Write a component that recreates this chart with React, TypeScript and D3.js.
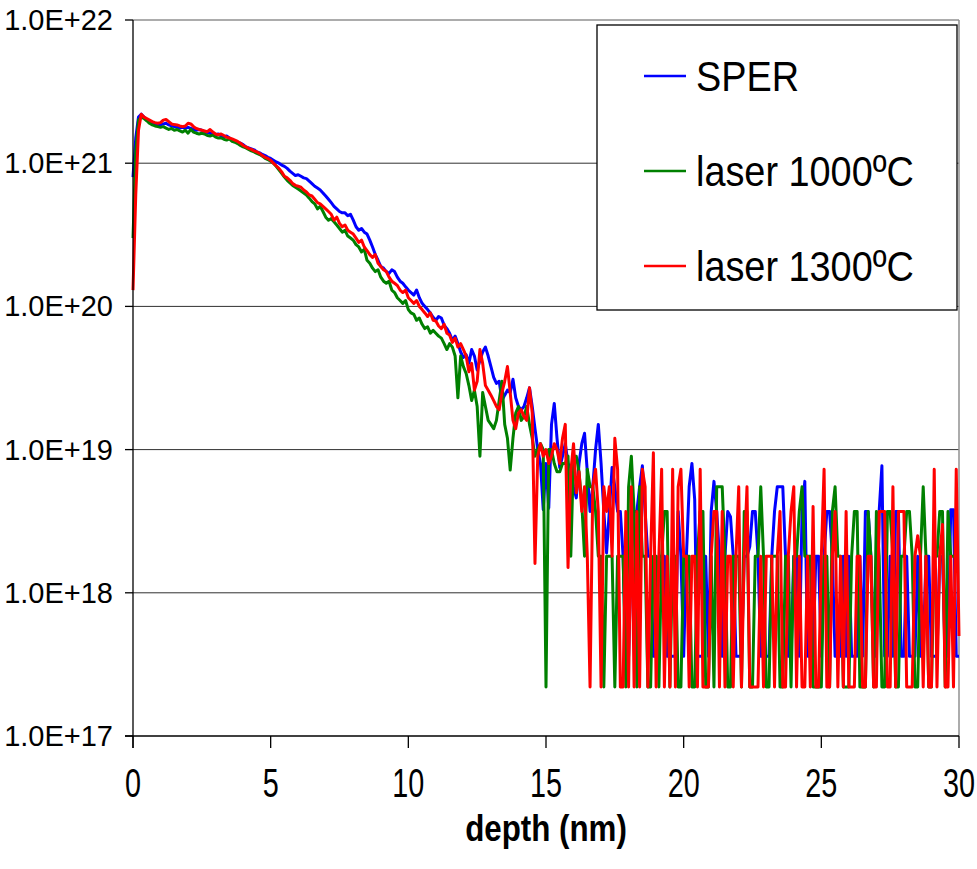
import React from "react";
import * as d3 from "d3";

// depth grid (nm), 0.1 nm sampling step of the SIMS profiles
const depthNm: number[] = d3.range(0, 301).map((i) => Math.round(i) / 10);

const seriesNames = ["SPER", "laser 1000ºC", "laser 1300ºC"];
const seriesColors = ["#0000FF", "#008000", "#FF0000"];

const xTicks = [0, 5, 10, 15, 20, 25, 30];
const yTicks = [1e17, 1e18, 1e19, 1e20, 1e21, 1e22];
const xTitle = "depth (nm)";

// SPER
const sper: number[] = [
  8e20, 1.5e21, 2.1e21, 2.2e21, 2.1e21, 2.0e21, 1.95e21, 1.9e21, 1.88e21, 1.85e21,
  1.85e21, 1.88e21, 1.9e21, 1.85e21, 1.82e21, 1.8e21, 1.78e21, 1.76e21, 1.78e21, 1.75e21,
  1.78e21, 1.75e21, 1.72e21, 1.7e21, 1.72e21, 1.7e21, 1.66e21, 1.64e21, 1.62e21, 1.6e21,
  1.58e21, 1.6e21, 1.55e21, 1.52e21, 1.55e21, 1.5e21, 1.45e21, 1.42e21, 1.4e21, 1.38e21,
  1.35e21, 1.3e21, 1.28e21, 1.26e21, 1.24e21, 1.2e21, 1.18e21, 1.15e21, 1.13e21, 1.1e21,
  1.08e21, 1.05e21, 1.02e21, 1.0e21, 9.7e20, 9.5e20, 9.2e20, 8.8e20, 8.5e20, 8.2e20,
  8.3e20, 8.1e20, 7.9e20, 7.8e20, 7.5e20, 7.2e20, 6.9e20, 6.7e20, 6.5e20, 6.2e20,
  5.9e20, 5.6e20, 5.3e20, 5.0e20, 4.8e20, 4.6e20, 4.5e20, 4.5e20, 4.3e20, 4.4e20,
  4.0e20, 3.6e20, 3.4e20, 3.5e20, 3.3e20, 3.2e20, 2.9e20, 2.6e20, 2.3e20, 2.1e20,
  1.9e20, 1.85e20, 1.75e20, 1.7e20, 1.8e20, 1.75e20, 1.6e20, 1.5e20, 1.45e20, 1.37e20,
  1.3e20, 1.25e20, 1.2e20, 1.3e20, 1.15e20, 1.05e20, 1.0e20, 9.5e19, 9.0e19, 8.4e19,
  8.0e19, 8.5e19, 8.3e19, 7.4e19, 7.0e19, 6.5e19, 5.8e19, 6.2e19, 5.5e19, 4.8e19,
  4.4e19, 4.6e19, 4.0e19, 5.0e19, 4.5e19, 3.6e19, 4.2e19, 4.8e19, 5.2e19, 4.5e19,
  3.8e19, 3.2e19, 2.9e19, 3.0e19, 2.2e19, 2.4e19, 2.6e19, 2.5e19, 3.1e19, 2.3e19,
  2.0e19, 1.9e19, 2.0e19, 2.3e19, 2.7e19, 2.0e19, 1.4e19, 1.0e19, 8e18, 3.8e18,
  8e18, 3.9e18, 1.5e19, 2.1e19, 1.2e19, 7.5e18, 9e18, 1.1e19, 8e18, 7.5e18,
  5.5e18, 4.6e18, 8e18, 1.1e19, 1.3e19, 7e18, 3.7e18, 5.5e18, 1.0e19, 1.5e19,
  8e18, 3.7e18, 1.9e18, 3.7e18, 7.5e18, 5.5e18, 3.7e18, 3.7e18, 1.8e18, 3.6e17,
  3.6e17, 1.8e18, 3.7e18, 3.7e18, 5.5e18, 7.7e18, 3.7e18, 1.8e18, 1.8e18, 3.6e17,
  3.6e17, 1.8e18, 1.8e18, 1.8e18, 3.6e17, 3.6e17, 3.6e17, 3.6e17, 3.7e18, 1.8e18,
  3.6e17, 1.8e18, 5.5e18, 8e18, 4.5e18, 3.6e17, 3.6e17, 3.6e17, 1.8e18, 3.6e17,
  3.7e18, 6e18, 3.7e18, 1.8e18, 3.6e17, 1.8e18, 3.7e18, 3.4e18, 1.8e18, 3.6e17,
  3.6e17, 3.6e17, 1.8e18, 1.8e18, 2.1e18, 3.7e18, 3.7e18, 1.8e18, 3.6e17, 3.6e17,
  3.6e17, 3.6e17, 1.8e18, 3.7e18, 5.5e18, 5.5e18, 5.5e18, 1.8e18, 3.6e17, 3.6e17,
  1.8e18, 1.8e18, 3.6e17, 3.7e18, 6e18, 3.6e17, 3.6e17, 3.6e17, 1.8e18, 1.8e18,
  3.6e17, 1.8e18, 3.7e18, 3.7e18, 1.8e18, 3.6e17, 3.6e17, 3.6e17, 1.8e18, 3.6e17,
  1.8e18, 3.6e17, 3.6e17, 3.6e17, 1.8e18, 3.6e17, 3.7e18, 3.7e18, 1.8e18, 3.6e17,
  3.6e17, 3.7e18, 7.7e18, 3.6e17, 3.6e17, 1.8e18, 3.6e17, 3.7e18, 3.7e18, 3.6e17,
  3.6e17, 1.8e18, 3.6e17, 3.6e17, 3.6e17, 1.8e18, 3.6e17, 3.6e17, 1.8e18, 1.8e18,
  3.6e17, 3.6e17, 3.6e17, 1.8e18, 1.8e18, 3.6e17, 3.6e17, 3.8e18, 3.8e18, 3.6e17,
  3.6e17,
];

// laser 1000ºC
const laser1000: number[] = [
  3e20, 1.2e21, 2.0e21, 2.1e21, 2.05e21, 1.98e21, 1.9e21, 1.85e21, 1.82e21, 1.8e21,
  1.78e21, 1.8e21, 1.76e21, 1.72e21, 1.75e21, 1.7e21, 1.72e21, 1.68e21, 1.65e21, 1.7e21,
  1.62e21, 1.72e21, 1.65e21, 1.62e21, 1.6e21, 1.62e21, 1.6e21, 1.56e21, 1.55e21, 1.57e21,
  1.52e21, 1.5e21, 1.5e21, 1.47e21, 1.45e21, 1.48e21, 1.42e21, 1.4e21, 1.37e21, 1.33e21,
  1.3e21, 1.28e21, 1.25e21, 1.22e21, 1.2e21, 1.17e21, 1.15e21, 1.12e21, 1.08e21, 1.06e21,
  1.03e21, 1.0e21, 9.5e20, 9.0e20, 8.5e20, 8.0e20, 7.6e20, 7.3e20, 7.0e20, 6.8e20,
  6.6e20, 6.4e20, 6.2e20, 6.0e20, 5.7e20, 5.4e20, 5.2e20, 4.8e20, 5.0e20, 4.6e20,
  4.2e20, 4.0e20, 4.1e20, 3.9e20, 3.7e20, 3.5e20, 3.3e20, 3.4e20, 3.1e20, 3.0e20,
  2.9e20, 2.7e20, 2.6e20, 2.4e20, 2.5e20, 2.1e20, 2.0e20, 1.85e20, 1.75e20, 1.8e20,
  1.6e20, 1.5e20, 1.45e20, 1.5e20, 1.3e20, 1.25e20, 1.15e20, 1.1e20, 1.05e20, 1.1e20,
  9.5e19, 9.0e19, 8.8e19, 8.0e19, 8.3e19, 7.5e19, 7.0e19, 7.2e19, 6.5e19, 6.8e19,
  6.5e19, 6.2e19, 6.0e19, 5.5e19, 5.0e19, 5.5e19, 5.2e19, 4.5e19, 2.3e19, 4.5e19,
  3.8e19, 3.4e19, 2.8e19, 2.2e19, 2.6e19, 2.0e19, 9e18, 2.5e19, 2.0e19, 1.6e19,
  1.5e19, 1.4e19, 1.6e19, 2.2e19, 3.0e19, 1.5e19, 1.2e19, 7.2e18, 1.2e19, 1.8e19,
  2.0e19, 1.6e19, 1.7e19, 2.0e19, 1.5e19, 1.2e19, 9e18, 1.0e19, 1.1e19, 1.0e19,
  2.2e17, 1.0e19, 1.0e19, 8e18, 7e18, 7e18, 8e18, 8e18, 9e18, 1.8e18,
  9e18, 9e18, 7e18, 4.2e18, 1.8e18, 7.3e18, 5.5e18, 5.5e18, 3.7e18, 1.8e18,
  1.8e18, 2.2e17, 1.8e18, 1.8e18, 1.8e18, 2.2e17, 1.8e18, 1.8e18, 1.8e18, 2.2e17,
  5.5e18, 9e18, 3.7e18, 2.2e17, 5.5e18, 1.8e18, 1.8e18, 2.2e17, 2.2e17, 1.8e18,
  1.8e18, 2.2e17, 1.8e18, 3.7e18, 3.7e18, 2.2e17, 1.8e18, 1.8e18, 2.2e17, 2.2e17,
  1.8e18, 1.8e18, 1.8e18, 2.2e17, 2.2e17, 1.8e18, 3.7e18, 3.7e18, 2.2e17, 2.2e17,
  1.8e18, 2.2e17, 5.5e18, 5.5e18, 5.5e18, 1.8e18, 2.2e17, 2.2e17, 1.8e18, 1.8e18,
  1.8e18, 2.2e17, 3.7e18, 3.7e18, 2.2e17, 2.2e17, 1.8e18, 1.8e18, 5.5e18, 1.8e18,
  2.2e17, 2.2e17, 1.8e18, 1.8e18, 1.8e18, 2.2e17, 2.2e17, 1.8e18, 1.8e18, 2.2e17,
  1.8e18, 1.8e18, 3.7e18, 5.5e18, 1.8e18, 1.8e18, 1.8e18, 2.2e17, 2.2e17, 2.2e17,
  2.2e17, 1.8e18, 1.8e18, 2.2e17, 3.7e18, 5.5e18, 1.8e18, 1.8e18, 2.2e17, 2.2e17,
  2.2e17, 1.8e18, 3.7e18, 3.7e18, 2.2e17, 2.2e17, 2.2e17, 3.7e18, 1.8e18, 2.2e17,
  3.7e18, 1.8e18, 2.2e17, 2.2e17, 3.7e18, 3.7e18, 1.8e18, 2.2e17, 2.2e17, 1.8e18,
  1.8e18, 3.7e18, 3.7e18, 1.8e18, 2.2e17, 2.2e17, 1.8e18, 5.5e18, 1.8e18, 2.2e17,
  2.2e17, 1.8e18, 1.8e18, 3.7e18, 3.7e18, 2.2e17, 3.7e18, 1.8e18, 1.8e18, 1.8e18,
  1.8e18,
];

// laser 1300ºC
const laser1300: number[] = [
  1.3e20, 6e20, 1.7e21, 2.2e21, 2.1e21, 2.05e21, 2.0e21, 1.95e21, 1.92e21, 1.9e21,
  1.92e21, 2.0e21, 2.02e21, 1.95e21, 1.88e21, 1.86e21, 1.85e21, 1.82e21, 1.8e21, 1.82e21,
  1.9e21, 1.88e21, 1.8e21, 1.75e21, 1.72e21, 1.7e21, 1.68e21, 1.66e21, 1.72e21, 1.65e21,
  1.6e21, 1.58e21, 1.6e21, 1.56e21, 1.52e21, 1.5e21, 1.48e21, 1.45e21, 1.42e21, 1.38e21,
  1.33e21, 1.3e21, 1.27e21, 1.25e21, 1.22e21, 1.2e21, 1.17e21, 1.13e21, 1.1e21, 1.08e21,
  1.05e21, 1.0e21, 9.6e20, 9.2e20, 8.7e20, 8.1e20, 7.9e20, 7.6e20, 7.2e20, 7.0e20,
  6.9e20, 6.8e20, 6.5e20, 6.3e20, 6.0e20, 5.9e20, 5.6e20, 5.3e20, 5.2e20, 5.0e20,
  4.8e20, 4.6e20, 4.4e20, 4.0e20, 4.2e20, 3.8e20, 3.6e20, 3.7e20, 3.4e20, 3.3e20,
  3.2e20, 3.0e20, 2.8e20, 2.9e20, 2.6e20, 2.45e20, 2.3e20, 2.2e20, 2.3e20, 2.0e20,
  1.9e20, 1.8e20, 1.75e20, 1.6e20, 1.5e20, 1.45e20, 1.4e20, 1.3e20, 1.25e20, 1.3e20,
  1.15e20, 1.1e20, 1.05e20, 1.1e20, 1.0e20, 9.5e19, 9.0e19, 8.5e19, 9.0e19, 8.0e19,
  7.9e19, 7.3e19, 7.0e19, 7.5e19, 6.5e19, 6.3e19, 5.6e19, 6.0e19, 5.2e19, 5.5e19,
  5.0e19, 4.5e19, 3.5e19, 4.0e19, 2.6e19, 3.0e19, 5.0e19, 4.0e19, 2.8e19, 2.6e19,
  2.4e19, 2.2e19, 2.0e19, 1.9e19, 2.5e19, 3.0e19, 3.8e19, 2.5e19, 1.6e19, 1.4e19,
  1.8e19, 1.9e19, 1.7e19, 1.6e19, 2.7e19, 1.8e19, 1.6e18, 9e18, 1.1e19, 9e18,
  1.0e19, 8e18, 9e18, 1.1e19, 1.0e19, 8e18, 1.2e19, 1.5e19, 1.5e18, 7e18,
  1.1e19, 5e18, 7e18, 3.7e18, 5.5e18, 1.8e18, 2.2e17, 5.5e18, 7.3e18, 3.7e18,
  2.2e17, 5.5e18, 3.7e18, 5.5e18, 1.8e18, 1.2e19, 7.3e18, 2.2e17, 2.2e17, 3.7e18,
  2.2e17, 5.5e18, 2.2e17, 3.7e18, 2.2e17, 7.3e18, 5.5e18, 2.2e17, 1.8e18, 9.5e18,
  2.2e17, 1.8e18, 7.3e18, 2.2e17, 1.8e18, 2.2e17, 7.3e18, 2.2e17, 5.5e18, 7.3e18,
  1.8e18, 1.8e18, 2.2e17, 1.8e18, 1.8e18, 2.2e17, 7.3e18, 2.2e17, 2.2e17, 2.2e17,
  1.8e18, 3.7e18, 3.7e18, 2.2e17, 3.7e18, 2.2e17, 1.8e18, 1.8e18, 2.2e17, 1.8e18,
  5.5e18, 2.2e17, 1.8e18, 5.5e18, 2.2e17, 2.2e17, 2.2e17, 2.2e17, 1.8e18, 2.2e17,
  1.8e18, 1.8e18, 1.8e18, 2.2e17, 1.8e18, 3.7e18, 2.2e17, 2.2e17, 1.8e18, 3.7e18,
  5.5e18, 2.2e17, 1.8e18, 2.2e17, 2.2e17, 1.8e18, 2.2e17, 4.0e18, 2.2e17, 2.2e17,
  1.8e18, 7.3e18, 2.2e17, 2.2e17, 1.8e18, 3.7e18, 2.2e17, 1.8e18, 2.2e17, 3.7e18,
  2.2e17, 2.2e17, 2.2e17, 1.8e18, 1.8e18, 2.2e17, 2.2e17, 1.8e18, 1.8e18, 2.2e17,
  2.2e17, 3.7e18, 3.7e18, 3.7e18, 2.2e17, 2.2e17, 5.5e18, 2.2e17, 3.7e18, 3.7e18,
  3.7e18, 2.2e17, 2.2e17, 2.2e17, 1.8e18, 2.5e18, 1.8e18, 2.2e17, 1.8e18, 2.2e17,
  2.2e17, 7.3e18, 2.2e17, 1.8e18, 3.0e18, 2.2e17, 2.2e17, 1.8e18, 2.2e17, 7.3e18,
  5e17,
];

const seriesValues = [sper, laser1000, laser1300];

const W = 977;
const H = 869;
const plot = { left: 133, right: 959, top: 20, bottom: 736 };

const fmtY = (v: number) => `1.0E+${Math.round(Math.log10(v))}`;

export default function App() {
  const x = d3.scaleLinear().domain([0, 30]).range([plot.left, plot.right]);
  const y = d3.scaleLog().domain([1e17, 1e22]).range([plot.bottom, plot.top]);

  const line = d3
    .line<number>()
    .x((_, i) => x(depthNm[i]))
    .y((v) => y(v));

  const legend = { x: 597, y: 25, w: 360, h: 285 };
  const legendRows = [76, 171, 266];

  return (
    <svg
      width={W}
      height={H}
      style={{ position: "absolute", left: 0, top: 0, background: "#fff" }}
      fontFamily="'Liberation Sans', Arial, sans-serif"
    >
      <rect x={0} y={0} width={W} height={H} fill="#fff" />
      {/* gridlines */}
      {yTicks.slice(1, -1).map((t) => (
        <line key={t} x1={plot.left} x2={plot.right} y1={y(t)} y2={y(t)} stroke="#303030" strokeWidth={1} />
      ))}
      {/* plot frame top & right */}
      <line x1={plot.left} x2={plot.right} y1={plot.top} y2={plot.top} stroke="#909090" strokeWidth={1.5} />
      <line x1={plot.right} x2={plot.right} y1={plot.top} y2={plot.bottom} stroke="#909090" strokeWidth={1.5} />

      {/* series */}
      {seriesValues.map((vals, k) => (
        <path
          key={k}
          d={line(vals) || ""}
          fill="none"
          stroke={seriesColors[k]}
          strokeWidth={3}
          strokeLinejoin="round"
        />
      ))}

      {/* axes */}
      <line x1={plot.left} x2={plot.left} y1={plot.top} y2={plot.bottom + 12} stroke="#000" strokeWidth={1.3} />
      <line x1={plot.left - 8} x2={plot.right} y1={plot.bottom} y2={plot.bottom} stroke="#000" strokeWidth={1.3} />
      {yTicks.map((t) => (
        <g key={t}>
          <line x1={plot.left - 8} x2={plot.left} y1={y(t)} y2={y(t)} stroke="#000" strokeWidth={1.3} />
          <text x={113} y={y(t) + 10} textAnchor="end" fontSize={29} fill="#000">
            {fmtY(t)}
          </text>
        </g>
      ))}
      {xTicks.map((t) => (
        <g key={t}>
          <line x1={x(t)} x2={x(t)} y1={plot.bottom} y2={plot.bottom + 12} stroke="#000" strokeWidth={1.3} />
          <text
            transform={`translate(${x(t)},${797}) scale(0.72,1)`}
            textAnchor="middle"
            fontSize={40}
            fill="#000"
          >
            {t}
          </text>
        </g>
      ))}
      <text
        transform={`translate(${(plot.left + plot.right) / 2},${841}) scale(0.87,1)`}
        textAnchor="middle"
        fontSize={36}
        fontWeight="bold"
        fill="#000"
      >
        {xTitle}
      </text>

      {/* legend */}
      <rect x={legend.x} y={legend.y} width={legend.w} height={legend.h} fill="#fff" stroke="#000" strokeWidth={1.3} />
      {seriesNames.map((name, k) => (
        <g key={name}>
          <line x1={644} x2={686} y1={legendRows[k]} y2={legendRows[k]} stroke={seriesColors[k]} strokeWidth={2.6} />
          <text
            transform={`translate(696,${legendRows[k] + 15}) scale(0.88,1)`}
            fontSize={43}
            fill="#000"
          >
            {name}
          </text>
        </g>
      ))}
    </svg>
  );
}
